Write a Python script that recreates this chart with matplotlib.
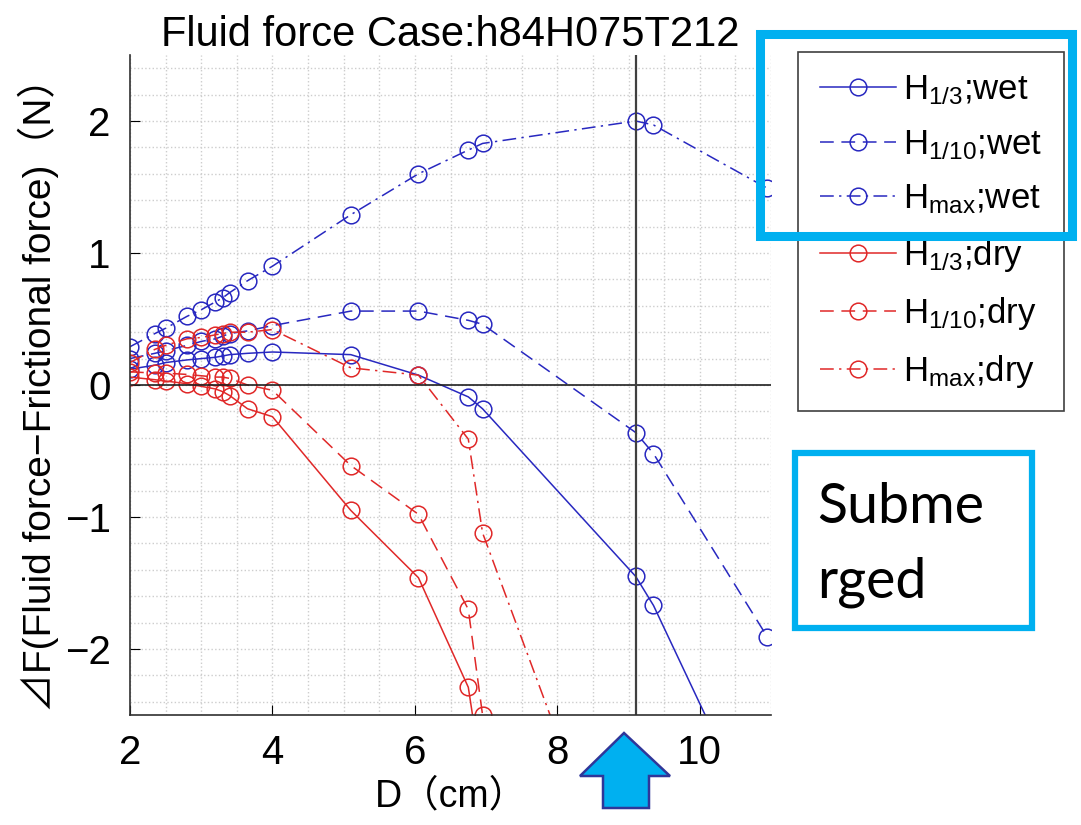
import matplotlib
matplotlib.use("Agg")
import matplotlib.pyplot as plt
import matplotlib.patches as patches
from matplotlib.ticker import MultipleLocator
import numpy as np

plt.rcParams['font.family'] = ['Liberation Sans', 'Noto Sans CJK JP', 'DejaVu Sans']
plt.rcParams['mathtext.fontset'] = 'custom'
plt.rcParams['mathtext.rm'] = 'Liberation Sans'
plt.rcParams['axes.unicode_minus'] = True

# --- data ---
D = [2.0, 2.35, 2.5, 2.8, 3.0, 3.2, 3.3, 3.4, 3.65, 4.0,
     5.1, 6.05, 6.75, 6.95, 9.1, 9.35, 10.95]

h13_wet = [0.12, 0.15, 0.17, 0.19, 0.20, 0.21, 0.22, 0.23, 0.24, 0.25,
           0.23, 0.075, -0.09, -0.18, -1.45, -1.67, -3.5]
h110_wet = [0.20, 0.24, 0.26, 0.30, 0.33, 0.35, 0.37, 0.39, 0.41, 0.45,
            0.56, 0.56, 0.49, 0.46, -0.36, -0.52, -1.91]
hmax_wet = [0.29, 0.39, 0.43, 0.52, 0.57, 0.63, 0.66, 0.70, 0.79, 0.90,
            1.29, 1.60, 1.78, 1.83, 2.00, 1.97, 1.49]
h13_dry = [0.06, 0.04, 0.03, 0.01, -0.01, -0.03, -0.05, -0.08, -0.18, -0.24,
           -0.95, -1.46, -2.29, -3.0]
h110_dry = [0.10, 0.09, 0.09, 0.08, 0.07, 0.06, 0.06, 0.05, 0.00, -0.04,
            -0.61, -0.98, -1.70, -2.50]
hmax_dry = [0.17, 0.27, 0.30, 0.35, 0.36, 0.38, 0.39, 0.40, 0.40, 0.42,
            0.13, 0.075, -0.41, -1.12, -4.25]

labels = [r'$\mathregular{H_{1/3}}$;wet', r'$\mathregular{H_{1/10}}$;wet',
          r'$\mathregular{H_{max}}$;wet', r'$\mathregular{H_{1/3}}$;dry',
          r'$\mathregular{H_{1/10}}$;dry', r'$\mathregular{H_{max}}$;dry']
D_mark = 9.1

W, H = 1081, 825
fig = plt.figure(figsize=(W / 100, H / 100), dpi=100)
ax = fig.add_axes([130 / W, 110 / H, 641 / W, 660 / H])

blue = '#2828c0'
red = '#e02828'
dash = (9, 5)
dashdot = (9, 3.5, 1.5, 3.5)
series = [(h13_wet, blue, None), (h110_wet, blue, dash), (hmax_wet, blue, dashdot),
          (h13_dry, red, None), (h110_dry, red, dash), (hmax_dry, red, dashdot)]
for (ys, c, dsh), lab in zip(series, labels):
    line, = ax.plot(D[:len(ys)], ys, color=c, lw=1.1, marker='o', ms=12,
                    mfc='none', mec=c, mew=1.1, label=lab)
    if dsh is not None:
        line.set_dashes(dsh)

ax.axhline(0, color='#202020', lw=1.2)
ax.axvline(D_mark, color='#404040', lw=1.6)

ax.set_xlim(2, 11)
ax.set_ylim(-2.5, 2.5)
ax.xaxis.set_major_locator(MultipleLocator(2))
ax.xaxis.set_minor_locator(MultipleLocator(0.5))
ax.yaxis.set_major_locator(MultipleLocator(1))
ax.yaxis.set_minor_locator(MultipleLocator(0.2))
ax.grid(which='both', ls=':', color='#cdcdcd', lw=1)
ax.set_axisbelow(True)
for s in ['top', 'right']:
    ax.spines[s].set_visible(False)
for s in ['left', 'bottom']:
    ax.spines[s].set_color('#303030')
    ax.spines[s].set_linewidth(1.2)
ax.tick_params(which='major', direction='in', length=7, labelsize=29, pad=14)
ax.tick_params(which='minor', length=0)

ax.set_title('Fluid force Case:h84H075T212', fontsize=30, pad=6)
ax.set_xlabel('D（cm）', fontsize=27, labelpad=4)
ax.set_ylabel('⊿F(Fluid force−Frictional force)（N）', fontsize=28, labelpad=4)

leg = ax.legend(loc='upper left', bbox_to_anchor=(798 / W, 1 - 52 / H),
                bbox_transform=fig.transFigure, borderaxespad=0, fontsize=25,
                handlelength=2.2, handletextpad=0.2, labelspacing=0.6,
                numpoints=1, fancybox=False, framealpha=1, borderpad=0.62)
leg.get_frame().set_edgecolor('#404040')
leg.get_frame().set_linewidth(1.2)

# light blue annotation boxes
def px_rect(x0, y0, x1, y1, lw):
    return patches.Rectangle((x0 / W, 1 - y1 / H), (x1 - x0) / W, (y1 - y0) / H,
                             transform=fig.transFigure, fill=False,
                             edgecolor='#00b0f0', lw=lw, zorder=10)

fig.patches.append(px_rect(760, 34, 1072, 236, 6.5))
fig.patches.append(px_rect(795, 453, 1032, 628, 4.5))
fig.text(817 / W, 1 - 523 / H, 'Subme', fontsize=40, family='Lato', va='baseline')
fig.text(817 / W, 1 - 598 / H, 'rged', fontsize=40, family='Lato', va='baseline')

# up arrow under the marked D
arrow_px = [(624, 733), (670, 776), (649, 776), (649, 808),
            (603, 808), (603, 776), (580, 776)]
arrow = patches.Polygon([(x / W, 1 - y / H) for x, y in arrow_px], closed=True,
                        transform=fig.transFigure, facecolor='#00b0f0',
                        edgecolor='#2f3699', lw=1.8, zorder=10)
fig.patches.append(arrow)

fig.savefig('out.png', dpi=100)
